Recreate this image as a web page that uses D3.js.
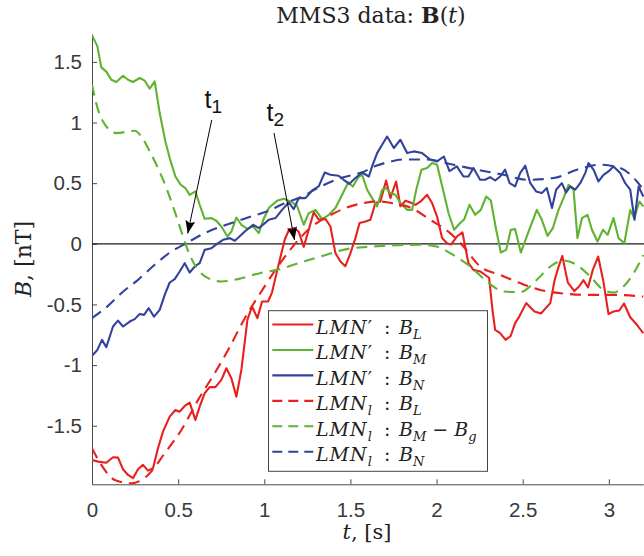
<!DOCTYPE html>
<html>
<head>
<meta charset="utf-8">
<script src="https://cdn.jsdelivr.net/npm/d3@7"></script>
<style>
  body { margin: 0; background: #fff; }
  svg { display: block; }
  .axis .tick text { font-family: "Liberation Sans", Arial, sans-serif; font-size: 20.5px; fill: #3a3a3a; }
  .axis path, .axis line { stroke: #4a4a4a; stroke-width: 1; }
  .serif { font-family: "DejaVu Serif", serif; fill: #222; }
  .sans { font-family: "Liberation Sans", Arial, sans-serif; fill: #111; }
</style>
</head>
<body>
<svg id="chart" width="644" height="556"></svg>
<script>
// tick values
const xTicks = [0, 0.5, 1, 1.5, 2, 2.5, 3];
const yTicks = [-1.5, -1, -0.5, 0, 0.5, 1, 1.5];

// LMN' frame, measured field [t (s), B (nT)]
const bLprime = [[0,-1.782],[0.035,-1.796],[0.083,-1.805],[0.122,-1.76],[0.151,-1.763],[0.18,-1.859],[0.209,-1.906],[0.238,-1.933],[0.267,-1.859],[0.296,-1.823],[0.325,-1.87],[0.354,-1.851],[0.383,-1.686],[0.412,-1.549],[0.451,-1.425],[0.484,-1.37],[0.509,-1.384],[0.538,-1.337],[0.567,-1.309],[0.6,-1.452],[0.625,-1.342],[0.654,-1.232],[0.683,-1.182],[0.716,-1.182],[0.751,-1.122],[0.78,-1.026],[0.809,-1.108],[0.838,-1.26],[0.867,-1.04],[0.902,-0.627],[0.929,-0.517],[0.96,-0.613],[0.987,-0.476],[1.022,-0.476],[1.045,-0.4],[1.07,-0.25],[1.092,-0.12],[1.12,0.04],[1.145,0.12],[1.175,0.13],[1.2,0.1],[1.229,-0.025],[1.258,0.116],[1.287,0.26],[1.316,0.2],[1.355,0.205],[1.384,0.143],[1.413,-0.077],[1.442,-0.146],[1.471,-0.185],[1.5,-0.077],[1.529,0.047],[1.553,0.171],[1.587,0.184],[1.616,0.198],[1.645,0.336],[1.674,0.349],[1.707,0.522],[1.732,0.377],[1.765,0.514],[1.79,0.31],[1.82,0.355],[1.848,0.34],[1.877,0.322],[1.912,0.355],[1.945,0.404],[1.974,0.336],[2.003,0.225],[2.032,0.047],[2.061,0.005],[2.085,-0.005],[2.118,0.06],[2.15,0.095],[2.185,-0.16],[2.214,-0.215],[2.253,-0.228],[2.305,-0.28],[2.325,-0.55],[2.34,-0.71],[2.369,-0.737],[2.401,-0.792],[2.43,-0.76],[2.456,-0.654],[2.48,-0.6],[2.52,-0.489],[2.568,-0.558],[2.606,-0.575],[2.66,-0.489],[2.685,-0.3],[2.708,-0.19],[2.73,-0.1],[2.762,-0.32],[2.8,-0.39],[2.827,-0.352],[2.853,-0.3],[2.879,-0.36],[2.907,-0.215],[2.938,-0.105],[2.967,-0.3],[2.998,-0.58],[3.027,-0.558],[3.061,-0.55],[3.088,-0.492],[3.124,-0.606],[3.163,-0.668],[3.2,-0.737]];

const bMprime = [[0,1.72],[0.031,1.63],[0.054,1.455],[0.083,1.42],[0.112,1.353],[0.141,1.334],[0.18,1.386],[0.209,1.353],[0.238,1.334],[0.277,1.367],[0.306,1.345],[0.335,1.279],[0.364,1.339],[0.393,1.078],[0.426,0.844],[0.451,0.707],[0.484,0.555],[0.515,0.487],[0.542,0.46],[0.567,0.404],[0.6,0.432],[0.625,0.322],[0.654,0.206],[0.693,0.212],[0.722,0.19],[0.751,0.143],[0.786,0.06],[0.809,0.1],[0.838,0.217],[0.867,0.157],[0.902,0.124],[0.935,0.143],[0.968,0.088],[0.995,0.2],[1.026,0.295],[1.074,0.355],[1.113,0.371],[1.152,0.349],[1.19,0.314],[1.229,0.157],[1.258,0.253],[1.297,0.28],[1.336,0.204],[1.375,0.239],[1.413,0.295],[1.452,0.404],[1.487,0.506],[1.514,0.473],[1.549,0.555],[1.568,0.569],[1.597,0.446],[1.626,0.377],[1.655,0.308],[1.684,0.446],[1.707,0.46],[1.732,0.418],[1.761,0.404],[1.79,0.336],[1.829,0.28],[1.858,0.28],[1.882,0.446],[1.912,0.611],[1.945,0.625],[1.974,0.666],[2.003,0.652],[2.042,0.418],[2.07,0.25],[2.102,0.116],[2.137,0.171],[2.16,0.2],[2.191,0.322],[2.224,0.239],[2.257,0.28],[2.288,0.39],[2.315,0.357],[2.346,0.116],[2.373,-0.072],[2.404,-0.05],[2.431,0.116],[2.456,0.121],[2.489,-0.072],[2.534,0.101],[2.582,0.28],[2.611,0.198],[2.644,0.066],[2.675,0.13],[2.708,0.28],[2.737,0.377],[2.766,0.487],[2.795,0.446],[2.818,0.047],[2.844,0.212],[2.876,0.239],[2.902,0.116],[2.934,0.019],[2.966,0.116],[2.993,0.074],[3.027,0.212],[3.056,0.047],[3.09,0.005],[3.124,0.28],[3.147,0.212],[3.177,0.349],[3.2,0.308]];

const bNprime = [[0,-0.924],[0.031,-0.875],[0.058,-0.792],[0.083,-0.852],[0.122,-0.682],[0.151,-0.633],[0.18,-0.682],[0.219,-0.641],[0.248,-0.621],[0.277,-0.578],[0.302,-0.586],[0.329,-0.531],[0.36,-0.6],[0.393,-0.545],[0.422,-0.421],[0.451,-0.319],[0.48,-0.291],[0.509,-0.228],[0.538,-0.16],[0.567,-0.237],[0.596,-0.187],[0.625,-0.16],[0.654,-0.05],[0.693,-0.036],[0.732,0.005],[0.761,0.033],[0.8,0.047],[0.829,0.025],[0.867,0.074],[0.887,0.101],[0.935,0.157],[0.968,0.13],[0.995,0.16],[1.026,0.198],[1.065,0.212],[1.103,0.28],[1.142,0.341],[1.171,0.286],[1.2,0.377],[1.239,0.377],[1.278,0.44],[1.316,0.473],[1.351,0.588],[1.384,0.569],[1.432,0.561],[1.461,0.528],[1.494,0.495],[1.529,0.542],[1.568,0.588],[1.607,0.555],[1.626,0.638],[1.655,0.748],[1.684,0.817],[1.713,0.885],[1.752,0.79],[1.79,0.858],[1.829,0.748],[1.868,0.762],[1.916,0.748],[1.965,0.693],[2.003,0.679],[2.042,0.72],[2.075,0.6],[2.118,0.638],[2.156,0.555],[2.185,0.555],[2.214,0.625],[2.253,0.528],[2.282,0.528],[2.311,0.55],[2.34,0.522],[2.369,0.555],[2.398,0.611],[2.424,0.5],[2.456,0.473],[2.485,0.583],[2.515,0.644],[2.544,0.5],[2.578,0.432],[2.611,0.418],[2.64,0.46],[2.67,0.295],[2.694,0.446],[2.727,0.5],[2.752,0.423],[2.776,0.473],[2.805,0.446],[2.834,0.5],[2.863,0.583],[2.882,0.666],[2.911,0.611],[2.94,0.514],[2.969,0.569],[2.998,0.597],[3.027,0.638],[3.066,0.583],[3.095,0.5],[3.124,0.446],[3.149,0.198],[3.173,0.473],[3.2,0.39]];

// LMN_l frame, model field
const bLmodel = [[0,-1.686],[0.054,-1.823],[0.132,-1.947],[0.228,-1.975],[0.325,-1.906],[0.422,-1.727],[0.519,-1.535],[0.616,-1.287],[0.712,-1.067],[0.79,-0.875],[0.887,-0.613],[0.983,-0.393],[1.072,-0.2],[1.15,-0.05],[1.266,0.13],[1.324,0.19],[1.382,0.235],[1.471,0.295],[1.576,0.336],[1.65,0.35],[1.761,0.33],[1.847,0.3],[1.963,0.198],[2.079,0.088],[2.156,-0.022],[2.253,-0.187],[2.369,-0.256],[2.485,-0.324],[2.602,-0.38],[2.718,-0.407],[2.873,-0.421],[3.027,-0.421],[3.2,-0.435]];

const bMmodel = [[0,1.312],[0.035,1.106],[0.064,1.009],[0.141,0.913],[0.248,0.932],[0.286,0.885],[0.335,0.762],[0.383,0.624],[0.432,0.46],[0.48,0.267],[0.519,0.1],[0.548,-0.022],[0.596,-0.173],[0.616,-0.215],[0.674,-0.283],[0.751,-0.311],[0.848,-0.291],[0.974,-0.242],[1.072,-0.215],[1.2,-0.16],[1.324,-0.105],[1.518,-0.035],[1.905,-0.008],[2.0,-0.022],[2.079,-0.077],[2.195,-0.187],[2.292,-0.311],[2.389,-0.393],[2.485,-0.398],[2.582,-0.297],[2.66,-0.187],[2.737,-0.138],[2.815,-0.175],[2.892,-0.27],[2.969,-0.38],[3.027,-0.402],[3.085,-0.352],[3.144,-0.242],[3.2,-0.091]];

const bNmodel = [[0,-0.613],[0.093,-0.512],[0.17,-0.407],[0.267,-0.297],[0.364,-0.173],[0.461,-0.063],[0.548,0.005],[0.654,0.088],[0.751,0.143],[0.848,0.19],[0.945,0.235],[1.022,0.27],[1.111,0.33],[1.22,0.39],[1.324,0.47],[1.44,0.54],[1.568,0.59],[1.653,0.645],[1.723,0.675],[1.808,0.695],[1.943,0.695],[2.098,0.652],[2.234,0.611],[2.389,0.569],[2.524,0.528],[2.679,0.542],[2.815,0.611],[2.95,0.652],[3.066,0.625],[3.163,0.514],[3.2,0.446]];

const red = "#e8201e", green = "#5fb330", blue = "#33439b";

const series = [
  { data: bLprime, color: red, dashed: false, frame: "prime", comp: "L" },
  { data: bMprime, color: green, dashed: false, frame: "prime", comp: "M" },
  { data: bNprime, color: blue, dashed: false, frame: "prime", comp: "N" },
  { data: bLmodel, color: red, dashed: true, frame: "l", comp: "L" },
  { data: bMmodel, color: green, dashed: true, frame: "l", comp: "M", minus: "g" },
  { data: bNmodel, color: blue, dashed: true, frame: "l", comp: "N" },
];

const svg = d3.select("#chart");

const x = d3.scaleLinear().domain([0, 3.2]).range([92, 643.3]);
const y = d3.scaleLinear().domain([-1.983, 1.73]).range([484.3, 34]);

const defs = svg.append("defs");
defs.append("clipPath")
  .attr("id", "plotclip")
  .append("rect")
  .attr("x", 92)
  .attr("y", 30)
  .attr("width", 560)
  .attr("height", 455);

// axes (ticks point inward like MATLAB)
svg.append("g")
  .attr("class", "axis")
  .attr("transform", `translate(0,${y.range()[0]})`)
  .call(d3.axisBottom(x).tickValues(xTicks).tickSizeInner(-5).tickSizeOuter(0).tickPadding(18).tickFormat((d) => String(d)));

svg.append("g")
  .attr("class", "axis")
  .attr("transform", `translate(${x(0)},0)`)
  .call(d3.axisLeft(y).tickValues(yTicks).tickSizeInner(-5).tickSizeOuter(0).tickPadding(10).tickFormat((d) => String(d)));

// zero line
svg.append("line")
  .attr("x1", x(0))
  .attr("x2", 644)
  .attr("y1", y(0))
  .attr("y2", y(0))
  .attr("stroke", "#1a1a1a")
  .attr("stroke-width", 1.2);

const plotArea = svg.append("g").attr("clip-path", "url(#plotclip)");

const solidLine = d3.line().x((d) => x(d[0])).y((d) => y(d[1]));
const smoothLine = d3.line().x((d) => x(d[0])).y((d) => y(d[1])).curve(d3.curveMonotoneX);

plotArea.selectAll("path.series")
  .data(series)
  .join("path")
  .attr("class", "series")
  .attr("fill", "none")
  .attr("stroke", (d) => d.color)
  .attr("stroke-width", 2.1)
  .attr("stroke-linejoin", "round")
  .attr("stroke-dasharray", (d) => (d.dashed ? "11,7" : null))
  .attr("d", (d) => (d.dashed ? smoothLine(d.data) : solidLine(d.data)));

// arrows t1, t2
defs.append("marker")
  .attr("id", "head")
  .attr("markerUnits", "userSpaceOnUse")
  .attr("viewBox", "0 -5 13 10")
  .attr("refX", 13)
  .attr("refY", 0)
  .attr("markerWidth", 13)
  .attr("markerHeight", 10)
  .attr("orient", "auto")
  .append("path")
  .attr("d", "M0,-5L13,0L0,5L2.5,0Z")
  .attr("fill", "#000");

const arrows = [
  { label: "1", tx: 204.5, ty: 108, from: [211.7, 120], to: [187.7, 233.5] },
  { label: "2", tx: 266.5, ty: 121, from: [274, 133], to: [294.5, 240] },
];

arrows.forEach((a) => {
  svg.append("line")
    .attr("x1", a.from[0]).attr("y1", a.from[1])
    .attr("x2", a.to[0]).attr("y2", a.to[1])
    .attr("stroke", "#000")
    .attr("stroke-width", 1)
    .attr("marker-end", "url(#head)");
  const t = svg.append("text").attr("class", "sans").attr("x", a.tx).attr("y", a.ty).style("font-size", "25px");
  t.append("tspan").text("t");
  t.append("tspan").attr("dy", 5).style("font-size", "19px").text(a.label);
});

// title
const title = svg.append("text")
  .attr("class", "serif")
  .attr("x", 371)
  .attr("y", 23)
  .attr("text-anchor", "middle")
  .style("font-size", "22px");
title.append("tspan").text("MMS3 data: ");
title.append("tspan").style("font-weight", "bold").text("B");
title.append("tspan").text("(");
title.append("tspan").style("font-style", "italic").text("t");
title.append("tspan").text(")");

// axis labels
const xl = svg.append("text").attr("class", "serif").attr("x", 367).attr("y", 539).attr("text-anchor", "middle").style("font-size", "21px");
xl.append("tspan").style("font-style", "italic").text("t");
xl.append("tspan").text(", [s]");

const yl = svg.append("text").attr("class", "serif").attr("transform", "translate(31,259) rotate(-90)").attr("text-anchor", "middle").style("font-size", "22px");
yl.append("tspan").style("font-style", "italic").text("B");
yl.append("tspan").text(", [nT]");

// legend
const lg = svg.append("g");
lg.append("rect")
  .attr("x", 268.5)
  .attr("y", 310.7)
  .attr("width", 219)
  .attr("height", 160.6)
  .attr("fill", "#fff")
  .attr("stroke", "#444")
  .attr("stroke-width", 1);

series.forEach((s, i) => {
  const base = 334 + i * 25.45;
  lg.append("line")
    .attr("x1", 272.3).attr("x2", 313.3)
    .attr("y1", base - 9.5).attr("y2", base - 9.5)
    .attr("stroke", s.color)
    .attr("stroke-width", 2.1)
    .attr("stroke-dasharray", s.dashed ? "10,6" : null);

  const lhs = lg.append("text").attr("class", "serif").attr("x", 316).attr("y", base).style("font-size", "19px");
  lhs.append("tspan").style("font-style", "italic").attr("letter-spacing", 1).text("LMN");
  if (s.frame === "prime") {
    lhs.append("tspan").text("′");
  } else {
    lhs.append("tspan").style("font-style", "italic").style("font-size", "13px").attr("dy", 5).text("l");
  }
  lg.append("text").attr("class", "serif").attr("x", 384).attr("y", base).style("font-size", "19px").text(":");

  const rhs = lg.append("text").attr("class", "serif").attr("x", 399).attr("y", base).style("font-size", "19px");
  rhs.append("tspan").style("font-style", "italic").text("B");
  rhs.append("tspan").style("font-style", "italic").style("font-size", "13px").attr("dy", 5).text(s.comp);
  if (s.minus) {
    rhs.append("tspan").attr("dy", -5).text(" − ");
    rhs.append("tspan").style("font-style", "italic").text("B");
    rhs.append("tspan").style("font-style", "italic").style("font-size", "13px").attr("dy", 5).text(s.minus);
  }
});
</script>
</body>
</html>
